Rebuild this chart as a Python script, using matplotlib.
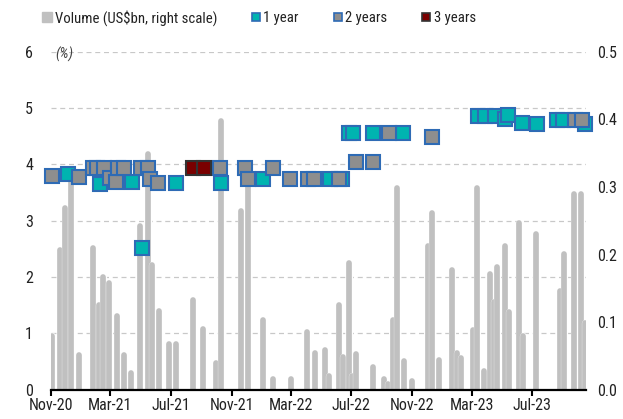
import matplotlib
matplotlib.use("Agg")
import matplotlib.pyplot as plt
import matplotlib.dates as mdates
from matplotlib.lines import Line2D
from matplotlib.ticker import FormatStrFormatter
import pandas as pd

plt.rcParams['font.family'] = ['Roboto Condensed', 'DejaVu Sans']
plt.rcParams['font.stretch'] = 'condensed'

# issuance volume, US$bn (right scale)
vol_dates = ['2020-11-03', '2020-11-20', '2020-11-29', '2020-12-12', '2020-12-27',
             '2021-01-24', '2021-02-06', '2021-02-14', '2021-02-27', '2021-03-14',
             '2021-03-28', '2021-04-12', '2021-04-30', '2021-05-16', '2021-05-25',
             '2021-06-07', '2021-06-27', '2021-07-11', '2021-08-15', '2021-09-05',
             '2021-10-01', '2021-10-10', '2021-11-20', '2021-12-04', '2022-01-03',
             '2022-01-23', '2022-02-28', '2022-04-03', '2022-04-18', '2022-05-09',
             '2022-05-17', '2022-06-05', '2022-06-14', '2022-06-26', '2022-07-03',
             '2022-07-11', '2022-08-14', '2022-09-04', '2022-09-13', '2022-09-24',
             '2022-10-01', '2022-10-15', '2022-10-31', '2022-12-03', '2022-12-10',
             '2022-12-24', '2023-01-21', '2023-01-31', '2023-02-07', '2023-03-04',
             '2023-03-11', '2023-03-26', '2023-04-08', '2023-04-16', '2023-04-22',
             '2023-05-07', '2023-05-15', '2023-06-04', '2023-06-13', '2023-07-09',
             '2023-08-26', '2023-09-03', '2023-09-24', '2023-10-08', '2023-10-17']
vol_values = [0.079, 0.207, 0.269, 0.309, 0.052,
              0.210, 0.125, 0.167, 0.158, 0.109,
              0.052, 0.025, 0.242, 0.348, 0.185,
              0.116, 0.068, 0.068, 0.133, 0.090,
              0.039, 0.397, 0.264, 0.301, 0.103,
              0.016, 0.016, 0.086, 0.054, 0.059,
              0.020, 0.125, 0.049, 0.187, 0.021,
              0.053, 0.033, 0.016, 0.008, 0.103,
              0.298, 0.042, 0.013, 0.212, 0.262,
              0.044, 0.177, 0.054, 0.047, 0.089,
              0.298, 0.027, 0.171, 0.130, 0.182,
              0.212, 0.115, 0.247, 0.079, 0.231,
              0.146, 0.201, 0.289, 0.289, 0.099]

# yields, %
one_year_dates = ['2020-12-06', '2021-02-08', '2021-04-14', '2021-05-03', '2021-07-11',
                  '2021-10-11', '2022-01-03', '2022-05-18', '2022-06-12', '2022-06-26',
                  '2022-07-04', '2022-08-13', '2022-10-13', '2023-03-13', '2023-03-27',
                  '2023-04-17', '2023-05-07', '2023-05-14', '2023-06-10', '2023-07-10',
                  '2023-08-20', '2023-09-01', '2023-10-16']
one_year_rates = [3.83, 3.66, 3.68, 2.51, 3.67,
                  3.67, 3.74, 3.74, 3.74, 4.55,
                  4.55, 4.55, 4.55, 4.85, 4.85,
                  4.85, 4.80, 4.87, 4.74, 4.71,
                  4.78, 4.78, 4.71]

two_year_dates = ['2020-11-02', '2020-12-28', '2021-01-25', '2021-02-01', '2021-02-16',
                  '2021-02-28', '2021-03-13', '2021-03-16', '2021-03-28', '2021-05-02',
                  '2021-05-16', '2021-05-21', '2021-06-06', '2021-10-08', '2021-11-28',
                  '2021-12-05', '2022-01-23', '2022-02-27', '2022-04-04', '2022-04-16',
                  '2022-06-06', '2022-07-11', '2022-08-14', '2022-09-14', '2022-12-11',
                  '2023-09-25', '2023-10-09']
two_year_rates = [3.80, 3.77, 3.93, 3.93, 3.93,
                  3.75, 3.69, 3.93, 3.93, 3.93,
                  3.93, 3.74, 3.67, 3.93, 3.93,
                  3.74, 3.93, 3.74, 3.74, 3.74,
                  3.74, 4.04, 4.04, 4.55, 4.49,
                  4.78, 4.78]

three_year_dates = ['2021-08-15', '2021-09-06']
three_year_rates = [3.93, 3.93]

legend_labels = ['Volume (US$bn, right scale)', '1 year', '2 years', '3 years']
month_ticks = [3, 7, 11]

bar_grey = '#c0c0c0'
teal = '#00b4b0'
mid_grey = '#8e8e8e'
dark_red = '#7a0000'
edge_blue = '#2e6bb5'
txt = '#222222'
fs = 11.5

fig = plt.figure(figsize=(6.23, 4.19), dpi=100)
# bottom axes: left scale + grid, then bars (right scale), then markers on top
ax = fig.add_axes([0.0819, 0.0699, 0.8587, 0.8067])
ax2 = ax.twinx()
ax3 = ax.twinx()

ax.set_ylim(0, 6)
ax.set_yticks(range(0, 7))
ax.grid(axis='y', linestyle=(0, (4, 3)), color='#c8c8c8', linewidth=0.9)
ax.set_xlim(pd.Timestamp('2020-11-01'), pd.Timestamp('2023-10-18'))
ax.xaxis.set_major_locator(mdates.MonthLocator(bymonth=month_ticks))
ax.xaxis.set_major_formatter(mdates.DateFormatter('%b-%y'))
ax.tick_params(axis='y', length=0, pad=13, labelsize=fs, labelcolor=txt)
ax.tick_params(axis='x', direction='out', length=4, width=1.5, pad=2,
               labelsize=fs, labelcolor=txt)
for s in ['top', 'left', 'right', 'bottom']:
    ax.spines[s].set_visible(False)

# volume bars, each with a thin white outline drawn just before it
d = pd.to_datetime(vol_dates)
xs, ys, cs, ws = [], [], [], []
for xi, yi in zip(d, vol_values):
    xs += [xi, xi]
    ys += [yi, yi]
    cs += ['white', bar_grey]
    ws += [5.2, 4.1]
vl = ax2.vlines(xs, 0, ys, colors=cs, linewidths=ws)
vl.set_capstyle('round')
ax2.set_ylim(0, 0.5)
ax2.set_yticks([0.0, 0.1, 0.2, 0.3, 0.4, 0.5])
ax2.yaxis.set_major_formatter(FormatStrFormatter('%.1f'))
ax2.tick_params(axis='y', length=0, pad=8, labelsize=fs, labelcolor=txt)
for s in ax2.spines.values():
    s.set_visible(False)

# yield markers
mk = dict(marker='s', linestyle='none', markersize=10.6, markeredgewidth=1.5, clip_on=False)
ax3.plot(pd.to_datetime(one_year_dates), one_year_rates, markerfacecolor=teal,
         markeredgecolor=edge_blue, **mk)
ax3.plot(pd.to_datetime(two_year_dates), two_year_rates, markerfacecolor=mid_grey,
         markeredgecolor=edge_blue, **mk)
ax3.plot(pd.to_datetime(three_year_dates), three_year_rates, markerfacecolor=dark_red,
         markeredgecolor='#333333', **mk)
ax3.set_ylim(0, 6)
ax3.set_yticks([])
for s in ['top', 'left', 'right']:
    ax3.spines[s].set_visible(False)
ax3.spines['bottom'].set_linewidth(1.6)
ax3.spines['bottom'].set_color('black')

ax3.text(0.008, 5.95, '(%)', transform=ax3.get_yaxis_transform(), fontsize=10.5,
         style='italic', color='#444444', va='center', ha='left')

handles = [
    Line2D([], [], marker='s', linestyle='none', markersize=6.5, markerfacecolor=bar_grey,
           markeredgecolor=bar_grey),
    Line2D([], [], marker='s', linestyle='none', markersize=6, markerfacecolor=teal,
           markeredgecolor=edge_blue, markeredgewidth=1.2),
    Line2D([], [], marker='s', linestyle='none', markersize=6, markerfacecolor=mid_grey,
           markeredgecolor=edge_blue, markeredgewidth=1.2),
    Line2D([], [], marker='s', linestyle='none', markersize=6, markerfacecolor=dark_red,
           markeredgecolor='#333333', markeredgewidth=1.2),
]
fig.legend(handles, legend_labels, loc='center left', bbox_to_anchor=(0.058, 0.958),
           ncol=4, frameon=False, fontsize=10.6, handlelength=0.7, handletextpad=0.15,
           columnspacing=2.3, borderaxespad=0, labelcolor=txt)

fig.savefig('out.png', dpi=100)
